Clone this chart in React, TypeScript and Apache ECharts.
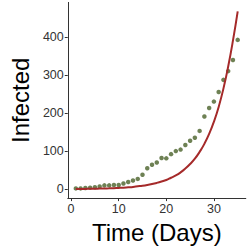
import React, { useEffect, useRef } from "react";
import * as echarts from "echarts";

const days = [1,2,3,4,5,6,7,8,9,10,11,12,13,14,15,16,17,18,19,20,21,22,23,24,25,26,27,28,29,30,31,32,33,34,35];
const observed = [2,2,3,4,5,7,10,10,11,11,15,19,23,27,38,55,64,70,82,81,92,100,104,116,127,135,153,191,213,230,255,287,310,339,392];
const fitted = [0.5,0.6,0.8,1,1.2,1.5,1.8,2.2,2.7,3.3,4,5,6,7.5,9,11,13.5,16.5,20,24,30,36,44,54,66,80,98,119,145,177,216,264,322,390,467];
const xTicks = [0, 10, 20, 30];
const yTicks = [0, 100, 200, 300, 400];

const FONT = "Liberation Sans, Arial, sans-serif";

export default function App() {
  const ref = useRef<HTMLDivElement>(null);
  useEffect(() => {
    if (!ref.current) return;
    const chart = echarts.init(ref.current, undefined, { renderer: "svg" });
    chart.setOption({
      animation: false,
      backgroundColor: "#ffffff",
      grid: { left: 51.4, right: 3.2, top: 2.4, bottom: 46.2, containLabel: false },
      xAxis: {
        type: "value",
        min: -0.7,
        max: 36.7,
        name: "Time (Days)",
        nameLocation: "middle",
        nameGap: 19,
        nameTextStyle: { fontFamily: FONT, fontSize: 24, color: "#000" },
        axisLine: { show: true, onZero: false, lineStyle: { color: "#333", width: 1 } },
        axisTick: { show: true, length: 3, customValues: xTicks, lineStyle: { color: "#333" } },
        axisLabel: { customValues: xTicks, margin: 4, fontFamily: FONT, fontSize: 12.5, color: "#333" },
        splitLine: { show: false },
      },
      yAxis: {
        type: "value",
        min: -23.4,
        max: 490.4,
        name: "Infected",
        nameLocation: "middle",
        nameGap: 29,
        nameTextStyle: { fontFamily: FONT, fontSize: 24, color: "#000" },
        axisLine: { show: true, onZero: false, lineStyle: { color: "#333", width: 1 } },
        axisTick: { show: true, length: 3, customValues: yTicks, lineStyle: { color: "#333" } },
        axisLabel: { customValues: yTicks, margin: 4, fontFamily: FONT, fontSize: 12.5, color: "#333" },
        splitLine: { show: false },
      },
      series: [
        {
          type: "scatter",
          data: days.map((d, i) => [d, observed[i]]),
          symbol: "circle",
          symbolSize: 4.5,
          itemStyle: { color: "#4a6229" },
          z: 2,
        },
        {
          type: "line",
          data: days.map((d, i) => [d, fitted[i]]),
          smooth: true,
          showSymbol: false,
          lineStyle: { color: "#A52A2A", width: 2 },
          z: 3,
        },
      ],
    });
    return () => chart.dispose();
  }, []);
  return (
    <div
      ref={ref}
      style={{ position: "fixed", left: 0, top: 0, width: 249, height: 249, background: "#fff" }}
    />
  );
}
